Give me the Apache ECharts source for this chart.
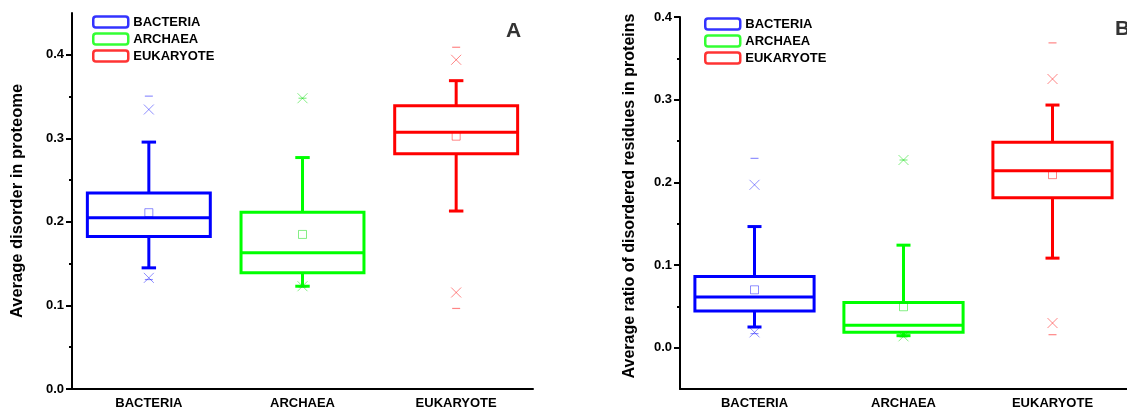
<!DOCTYPE html>
<html>
<head>
<meta charset="utf-8">
<script src="https://cdn.jsdelivr.net/npm/echarts@6/dist/echarts.min.js"></script>
<style>
  html, body { margin: 0; padding: 0; background: #fff; }
  #chart { width: 1127px; height: 414px; }
</style>
</head>
<body>
<div id="chart"></div>
<script>
// categories and colours
const categories = ['BACTERIA', 'ARCHAEA', 'EUKARYOTE']
const colors = ['#0000ff', '#00ff00', '#ff0000']
const lightColors = ['rgba(0,0,255,0.55)', 'rgba(0,220,0,0.6)', 'rgba(255,0,0,0.6)']

// panel A: average disorder in proteome  [whiskerLow, Q1, median, Q3, whiskerHigh]
const disorderBox = [
  [0.145, 0.1824, 0.205, 0.2346, 0.2955],
  [0.123, 0.139, 0.163, 0.2115, 0.277],
  [0.213, 0.2816, 0.3074, 0.339, 0.369]
]
const disorderMean = [0.211, 0.185, 0.3026]
const disorderCross = [[0.133, 0.3345], [0.123, 0.348], [0.1155, 0.394]]
const disorderRange = [[0.131, 0.3505], [0.122, 0.348], [0.0964, 0.409]]

// panel B: average ratio of disordered residues in proteins
const ratioBox = [
  [0.025, 0.0443, 0.0612, 0.0861, 0.1465],
  [0.0145, 0.0185, 0.027, 0.0547, 0.124],
  [0.1083, 0.1815, 0.214, 0.2484, 0.2935]
]
const ratioMean = [0.070, 0.0495, 0.2093]
const ratioCross = [[0.0185, 0.197], [0.0137, 0.227], [0.0298, 0.325]]
const ratioRange = [[0.017, 0.229], [0.013, 0.227], [0.0157, 0.3687]]

// tick labels
const majorTicks = [0, 0.1, 0.2, 0.3, 0.4]
const minorTicksA = [0.05, 0.15, 0.25, 0.35]
const minorTicksB = [0.05, 0.15, 0.25, 0.35]

const font = 'Arial, "Liberation Sans", sans-serif'

function renderBox(params, api) {
  const i = api.value(0)
  const lo = api.coord([i, api.value(1)])
  const q1 = api.coord([i, api.value(2)])
  const med = api.coord([i, api.value(3)])
  const q3 = api.coord([i, api.value(4)])
  const hi = api.coord([i, api.value(5)])
  const band = api.size([1, 0])[0]
  const half = band * 0.4
  const cap = band * 0.047
  const style = {stroke: colors[i], lineWidth: 3, fill: 'transparent'}
  const cx = med[0]
  return {
    type: 'group',
    children: [
      {type: 'rect', shape: {x: cx - half, y: q3[1], width: half * 2, height: q1[1] - q3[1]}, style: style},
      {type: 'line', shape: {x1: cx - half, y1: med[1], x2: cx + half, y2: med[1]}, style: style},
      {type: 'line', shape: {x1: cx, y1: q3[1], x2: cx, y2: hi[1]}, style: style},
      {type: 'line', shape: {x1: cx, y1: q1[1], x2: cx, y2: lo[1]}, style: style},
      {type: 'line', shape: {x1: cx - cap, y1: hi[1], x2: cx + cap, y2: hi[1]}, style: style},
      {type: 'line', shape: {x1: cx - cap, y1: lo[1], x2: cx + cap, y2: lo[1]}, style: style}
    ]
  }
}

function boxData(box) {
  return box.map((b, i) => [i].concat(b))
}
function pointData(values) {
  return values.map((v, i) => ({value: [i, v], itemStyle: {borderColor: lightColors[i], color: 'transparent'}}))
}
function pairData(pairs) {
  const out = []
  pairs.forEach((p, i) => {
    p.forEach(v => out.push({value: [i, v], itemStyle: {borderColor: lightColors[i], color: 'transparent'}}))
  })
  return out
}
function dashData(pairs) {
  const out = []
  pairs.forEach((p, i) => {
    p.forEach(v => out.push({value: [i, v], itemStyle: {color: lightColors[i]}}))
  })
  return out
}

function panelSeries(gi, box, mean, cross, range) {
  return [
    {
      type: 'custom', xAxisIndex: gi, yAxisIndex: gi * 2, renderItem: renderBox,
      encode: {x: 0, y: [1, 2, 3, 4, 5]}, data: boxData(box), clip: false, silent: true
    },
    {
      type: 'scatter', xAxisIndex: gi, yAxisIndex: gi * 2, symbol: 'rect', symbolSize: 8,
      itemStyle: {borderWidth: 1}, data: pointData(mean), silent: true
    },
    {
      type: 'scatter', xAxisIndex: gi, yAxisIndex: gi * 2, symbol: 'path://M0,0L10,10M0,10L10,0',
      symbolSize: 10, itemStyle: {borderWidth: 1}, data: pairData(cross), silent: true
    },
    {
      type: 'scatter', xAxisIndex: gi, yAxisIndex: gi * 2, symbol: 'rect', symbolSize: [8, 1.2],
      data: dashData(range), silent: true
    }
  ]
}

function xAxis(gi) {
  return {
    type: 'category', gridIndex: gi, data: categories, boundaryGap: true,
    axisLine: {onZero: false, lineStyle: {color: '#000', width: 2}},
    axisTick: {alignWithLabel: true, length: 5, lineStyle: {color: '#000', width: 2}},
    axisLabel: {color: '#000', fontWeight: 'bold', fontSize: 13, fontFamily: font, margin: 8}
  }
}

function yAxes(gi, min, max, name, nameSize, nameGap, namePad, minor) {
  return [
    {
      type: 'value', gridIndex: gi, min: min, max: max, position: 'left',
      name: name, nameLocation: 'middle', nameGap: nameGap,
      nameTextStyle: {color: '#000', fontWeight: 'bold', fontSize: nameSize, fontFamily: font, padding: namePad},
      axisLine: {show: true, onZero: false, lineStyle: {color: '#000', width: 2}},
      axisTick: {show: true, length: 6, customValues: majorTicks, lineStyle: {color: '#000', width: 2}},
      axisLabel: {
        color: '#000', fontWeight: 'bold', fontSize: 13, fontFamily: font, margin: 8,
        customValues: majorTicks, formatter: v => v.toFixed(1)
      },
      splitLine: {show: false}
    },
    {
      type: 'value', gridIndex: gi, min: min, max: max, position: 'left', offset: 0,
      axisLine: {show: false, onZero: false},
      axisTick: {show: true, length: 3, customValues: minor, lineStyle: {color: '#000', width: 2}},
      axisLabel: {show: false},
      splitLine: {show: false}
    }
  ]
}

function legend(left, top) {
  return {
    left: left, top: top, orient: 'vertical', selectedMode: false,
    icon: 'roundRect', itemWidth: 35, itemHeight: 11, itemGap: 3, padding: 0,
    textStyle: {color: '#000', fontWeight: 'bold', fontSize: 13, lineHeight: 14, fontFamily: font},
    data: categories.map((c, i) => ({
      name: c, itemStyle: {color: '#fff', borderColor: colors[i], borderWidth: 2.5}
    }))
  }
}

const legendSeries = categories.map((c, i) => ({
  type: 'scatter', name: c, xAxisIndex: 0, yAxisIndex: 0, data: [], itemStyle: {color: colors[i]}
}))

const chart = echarts.init(document.getElementById('chart'), null, {renderer: 'canvas'})
chart.setOption({
  animation: false,
  backgroundColor: '#fff',
  title: [
    {text: 'A', left: 506, top: 21, padding: 0, textStyle: {fontSize: 21, fontWeight: 'bold', color: '#333', fontFamily: font}},
    {text: 'B', left: 1115, top: 19, padding: 0, textStyle: {fontSize: 21, fontWeight: 'bold', color: '#333', fontFamily: font}}
  ],
  legend: [legend(92, 15), legend(704, 17)],
  grid: [
    {left: 72, top: 13, width: 461, height: 376},
    {left: 680, top: 17, width: 464, height: 372}
  ],
  xAxis: [xAxis(0), xAxis(1)],
  yAxis: yAxes(0, 0, 0.45, 'Average disorder in proteome', 16.5, 46, 0, minorTicksA)
    .concat(yAxes(1, -0.05, 0.4, 'Average ratio of disordered residues in proteins', 16, 42, [0, 0, 0, 14], minorTicksB)),
  series: legendSeries
    .concat(panelSeries(0, disorderBox, disorderMean, disorderCross, disorderRange))
    .concat(panelSeries(1, ratioBox, ratioMean, ratioCross, ratioRange))
})
</script>
</body>
</html>
